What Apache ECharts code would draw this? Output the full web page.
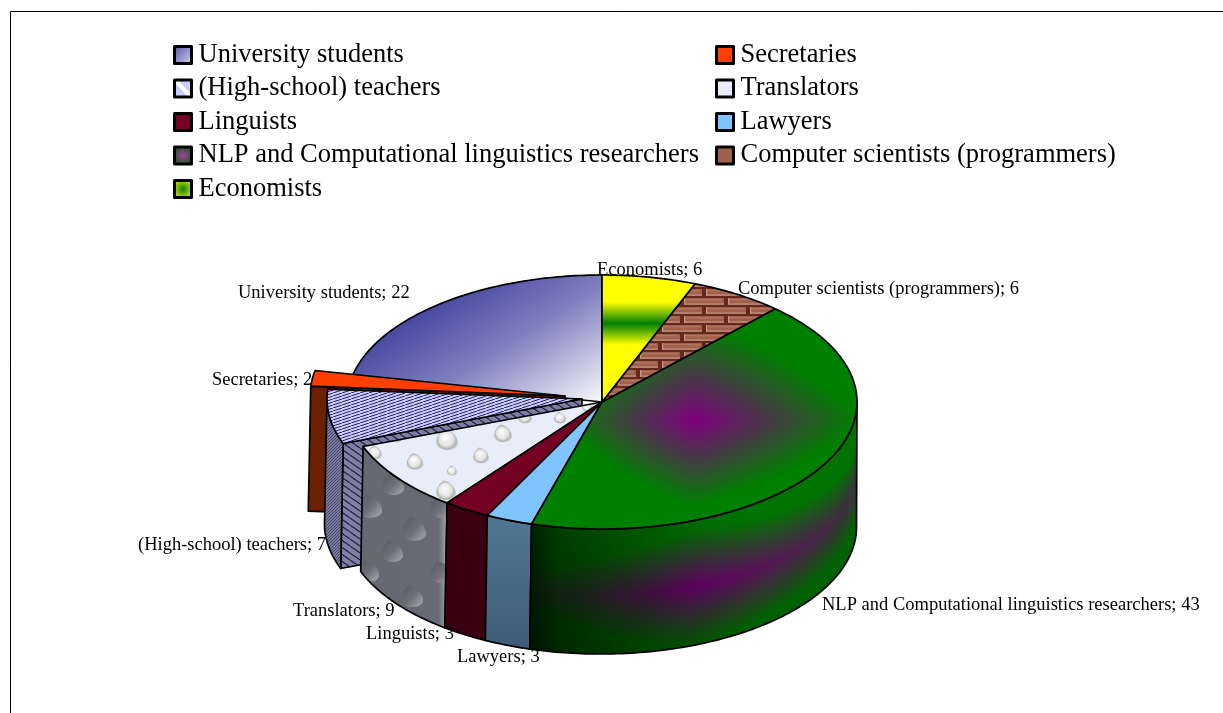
<!DOCTYPE html>
<html><head><meta charset="utf-8">
<style>html,body{margin:0;padding:0;background:#fff}#c{width:1223px;height:713px}</style>
<script src="https://cdn.jsdelivr.net/npm/echarts@6/dist/echarts.min.js"></script>
</head><body><div id="c"></div>
<script>
// ---- data ----
var categories = ['University students','Secretaries','(High-school) teachers','Translators','Linguists','Lawyers','NLP and Computational linguistics researchers','Computer scientists (programmers)','Economists'];
var seriesValues = [22,2,7,9,3,3,43,6,6];
var legendLeftColumn = ['University students','(High-school) teachers','Linguists','NLP and Computational linguistics researchers','Economists'];
var legendRightColumn = ['Secretaries','Translators','Lawyers','Computer scientists (programmers)'];

// ---- layout ----
var W=1223,H=713, SERIF='"Liberation Serif"';
var topE={cx:602,cy:402,rx:255,ry:127}, botE={cx:600.5,cy:527,rx:256,ry:127};
var explode={1:[-37,-6],2:[-20,-3]};
var labelAt=[[238,293],[212,380],[138,545],[293,611],[366,634],[457,657],[822,605],[738,289],[597,270]];

function tex(w,h,draw){var c=document.createElement('canvas');c.width=w;c.height=h;draw(c.getContext('2d'));return {image:c,repeat:'repeat'};}
function hatch(w,h,bg,fg,dir,lw){return tex(w,h,function(g){g.fillStyle=bg;g.fillRect(0,0,w,h);g.strokeStyle=fg;g.lineWidth=lw;
  for(var i=-1;i<=1;i++){g.beginPath();if(dir>0){g.moveTo(i*w,h);g.lineTo(i*w+w,0);}else{g.moveTo(i*w,0);g.lineTo(i*w+w,h);}g.stroke();}});}
function clamp(v){return Math.max(0,Math.min(1,v));}
function smooth(t){return t*t*(3-2*t);}
function pixels(fn){return tex(W,H,function(g){var d=g.createImageData(W,H);for(var y=0;y<H;y++)for(var x=0;x<W;x++){var c=fn(x,y),i=(y*W+x)*4;if(c){d.data[i]=c[0];d.data[i+1]=c[1];d.data[i+2]=c[2];d.data[i+3]=255;}}g.putImageData(d,0,0);});}

var nlpTop=pixels(function(x,y){if(x<520||x>870||y<290||y>540)return null;
  var ax=Math.abs(x-695)/(x<695?135:165),ay=Math.abs(y-420)/(y<420?100:85);
  var t=clamp(1-Math.pow(Math.pow(ax,1.25)+Math.pow(ay,1.25),1/1.25));
  return [128*t,128*(1-t),128*t];});
var nlpWall=pixels(function(x,y){if(x<520||x>870||y<400||y>665)return null;
  var dx=(x-602)/255;var top=402+127*Math.sqrt(Math.max(0,1-dx*dx));
  var u=(x-530)/327,v=(y-top)/125;
  var ax=Math.abs(u-0.5)/(u<0.5?0.62:1.05),ay=Math.abs(v-0.53)/0.46;
  var t=clamp(1-Math.pow(Math.pow(ax,1.2)+Math.pow(ay,1.2),1/1.2));
  var f=0.9*clamp(0.36+0.62*smooth(clamp(u+0.2))-0.2*(v-0.3));
  f*=clamp(0.6+(x-530)/30*0.4);
  return [128*t*f,128*(1-t)*f,128*t*f];});

function drop(g,x,y,r,light){
  g.save();g.translate(x,y);
  if(light){
    var a=g.createRadialGradient(-r*0.2,-r*0.3,r*0.1,0,0,r);
    a.addColorStop(0,'#fbfbfb');a.addColorStop(0.6,'#e4e4e2');a.addColorStop(0.85,'#b4b4b1');a.addColorStop(1,'#cfd2d8');
    g.fillStyle=a;
  }else{
    var b=g.createLinearGradient(-r,-r,r,r);
    b.addColorStop(0,'#585b62');b.addColorStop(0.5,'#6b6e75');b.addColorStop(0.85,'#9a9ca0');b.addColorStop(1,'#4a4d53');
    g.fillStyle=b;
  }
  g.beginPath();g.moveTo(-r*0.3,-r*1.1);g.bezierCurveTo(r*0.7,-r*0.9,r*1.1,r*0.1,r,r*0.4);g.bezierCurveTo(r*0.8,r*1.1,-r*0.8,r*1.1,-r,r*0.3);g.bezierCurveTo(-r*1.05,-r*0.2,-r*0.6,-r*0.8,-r*0.3,-r*1.1);g.fill();
  g.restore();
}
var transTop=tex(W,H,function(g){g.fillStyle='#e8edf9';g.fillRect(0,0,W,H);
  [[447,440,11],[415,462,8.5],[481,456,8],[503,434,9],[452,471,5],[446,491,10],[560,418,6],[525,417,7],[396,436,7],[375,453,7],[587,407,5]].forEach(function(d){drop(g,d[0],d[1],d[2],true);});});
var transWall=tex(W,H,function(g){var l=g.createLinearGradient(362,0,447,0);l.addColorStop(0,'#666971');l.addColorStop(0.9,'#686b73');l.addColorStop(0.96,'#8b8d92');l.addColorStop(1,'#c8c9cb');
  g.fillStyle=l;g.fillRect(0,0,W,H);
  [[393,485,11],[370,507,12],[414,530,12],[392,552,11],[441,508,11],[441,573,11],[412,597,11],[368,572,11]].forEach(function(d){drop(g,d[0],d[1],d[2],false);});});
var brick=tex(44,18,function(g){
  g.fillStyle='#64291c';g.fillRect(0,0,44,18);
  function b(x,y,w){g.fillStyle='#a0604c';g.fillRect(x,y,w,6);g.fillStyle='#c99684';g.fillRect(x,y+5.5,w,1.3);g.fillRect(x,y,1.3,6.5);g.fillStyle='#b07562';g.fillRect(x+1.3,y+1,w-3,1.4);}
  b(2,1,40);b(-20,10,40);b(24,10,40);});
var uniFill={type:'linear',global:true,x:400,y:321,x2:492,y2:467,colorStops:[{offset:0,color:'#4646a0'},{offset:0.45,color:'#8080c0'},{offset:1,color:'#f5f5f8'}]};
var ecoFill={type:'linear',global:true,x:0,y:302,x2:0,y2:345,colorStops:[{offset:0,color:'#ffff00'},{offset:0.5,color:'#008000'},{offset:1,color:'#ffff00'}]};
var lawWall={type:'linear',global:true,x:0,y:530,x2:0,y2:650,colorStops:[{offset:0,color:'#4f7590'},{offset:1,color:'#3f5b78'}]};

var topFill=[uniFill,'#ff4000',hatch(9,3,'#ccccff','#1e1e60',1,1),transTop,'#740024','#80c4ff',nlpTop,brick,ecoFill];
var wallFill=[null,'#6b2000',hatch(3,3,'#7a7a9e','#3a3a60',1,0.8),transWall,'#3a0012',lawWall,nlpWall,null,null];
var cutFill={1:'#6b2000',2:hatch(10,7,'#7f7fa6','#1e1e3c',-1,1.1)};
var swatch={};
swatch[categories[0]]={type:'linear',x:0,y:0,x2:1,y2:1,colorStops:[{offset:0,color:'#4a4aa4'},{offset:1,color:'#d8d8ee'}]};
swatch[categories[1]]='#ff4000';
swatch[categories[2]]={type:'linear',x:0,y:1,x2:1,y2:0,colorStops:[{offset:0,color:'#ccccff'},{offset:0.42,color:'#ccccff'},{offset:0.44,color:'#ffffff'},{offset:0.56,color:'#ffffff'},{offset:0.58,color:'#ccccff'},{offset:1,color:'#ccccff'}]};
swatch[categories[3]]='#e8edf9';
swatch[categories[4]]='#740024';
swatch[categories[5]]='#80c4ff';
swatch[categories[6]]={type:'radial',x:0.5,y:0.5,r:0.6,colorStops:[{offset:0,color:'#a040a0'},{offset:1,color:'#006000'}]};
swatch[categories[7]]='#a0604e';
swatch[categories[8]]={type:'radial',x:0.5,y:0.5,r:0.65,colorStops:[{offset:0,color:'#108010'},{offset:1,color:'#ffff00'}]};

// ---- angles from the data ----
var total=seriesValues.reduce(function(a,b){return a+b;},0);
function startAngle(idx){var s=0;for(var i=0;i<idx;i++)s+=seriesValues[i];return s/total*360;}
function pt(e,deg,o){var a=deg*Math.PI/180;return [e.cx+o[0]-e.rx*Math.sin(a),e.cy+o[1]-e.ry*Math.cos(a)];}
function arc(e,a,b,o){var n=Math.max(2,Math.ceil(Math.abs(b-a))),r=[];for(var i=0;i<=n;i++)r.push(pt(e,a+(b-a)*i/n,o));return r;}
var edge={stroke:'#000',lineWidth:1.7,lineJoin:'round'};
function poly(points,fill,z2){return {type:'polygon',shape:{points:points},style:Object.assign({fill:fill},edge),z2:z2};}

function renderSlice(idx){return function(params,api){
  var v=api.value(0),a=startAngle(idx),b=a+v/total*360,o=explode[idx]||[0,0],kids=[],z=idx*10+1;
  if(cutFill[idx]){
    kids.push(poly([pt(topE,b,o),[topE.cx+o[0],topE.cy+o[1]],[botE.cx+o[0],botE.cy+o[1]],pt(botE,b,o)],cutFill[idx],z++));
  }
  var wa=Math.max(a,90),wb=Math.min(b,270);
  if(wb>wa&&wallFill[idx]){
    kids.push(poly(arc(topE,wa,wb,o).concat(arc(botE,wb,wa,o)),wallFill[idx],z++));
  }
  kids.push(poly([[topE.cx+o[0],topE.cy+o[1]]].concat(arc(topE,a,b,o)),topFill[idx],z++));
  kids.push({type:'text',z2:1000,style:{text:categories[idx]+'; '+v,x:labelAt[idx][0],y:labelAt[idx][1],font:'18.5px '+SERIF,fill:'#000',align:'left',verticalAlign:'middle'}});
  return {type:'group',children:kids};
};}

function legendOf(names,left){return {orient:'vertical',left:left,top:41.5,itemWidth:17,itemHeight:17,itemGap:6.5,selectedMode:false,padding:0,
  textStyle:{fontFamily:SERIF,fontSize:26.5,lineHeight:17,color:'#000',padding:[0,0,0,2]},
  data:names.map(function(n){return {name:n,icon:'rect',itemStyle:{color:swatch[n],borderColor:'#000',borderWidth:3,borderJoin:'round'}};})};}

var chart=echarts.init(document.getElementById('c'),null,{renderer:'canvas'});
chart.setOption({
  animation:false,
  backgroundColor:'#fff',
  legend:[legendOf(legendLeftColumn,173),legendOf(legendRightColumn,715)],
  graphic:[{type:'polyline',silent:true,shape:{points:[[10.5,713],[10.5,11.5],[1223,11.5]]},style:{stroke:'#000',lineWidth:1,fill:null}}],
  series:categories.map(function(n,i){return {type:'custom',name:n,coordinateSystem:'none',silent:true,data:[[seriesValues[i]]],renderItem:renderSlice(i)};})
});
</script></body></html>
